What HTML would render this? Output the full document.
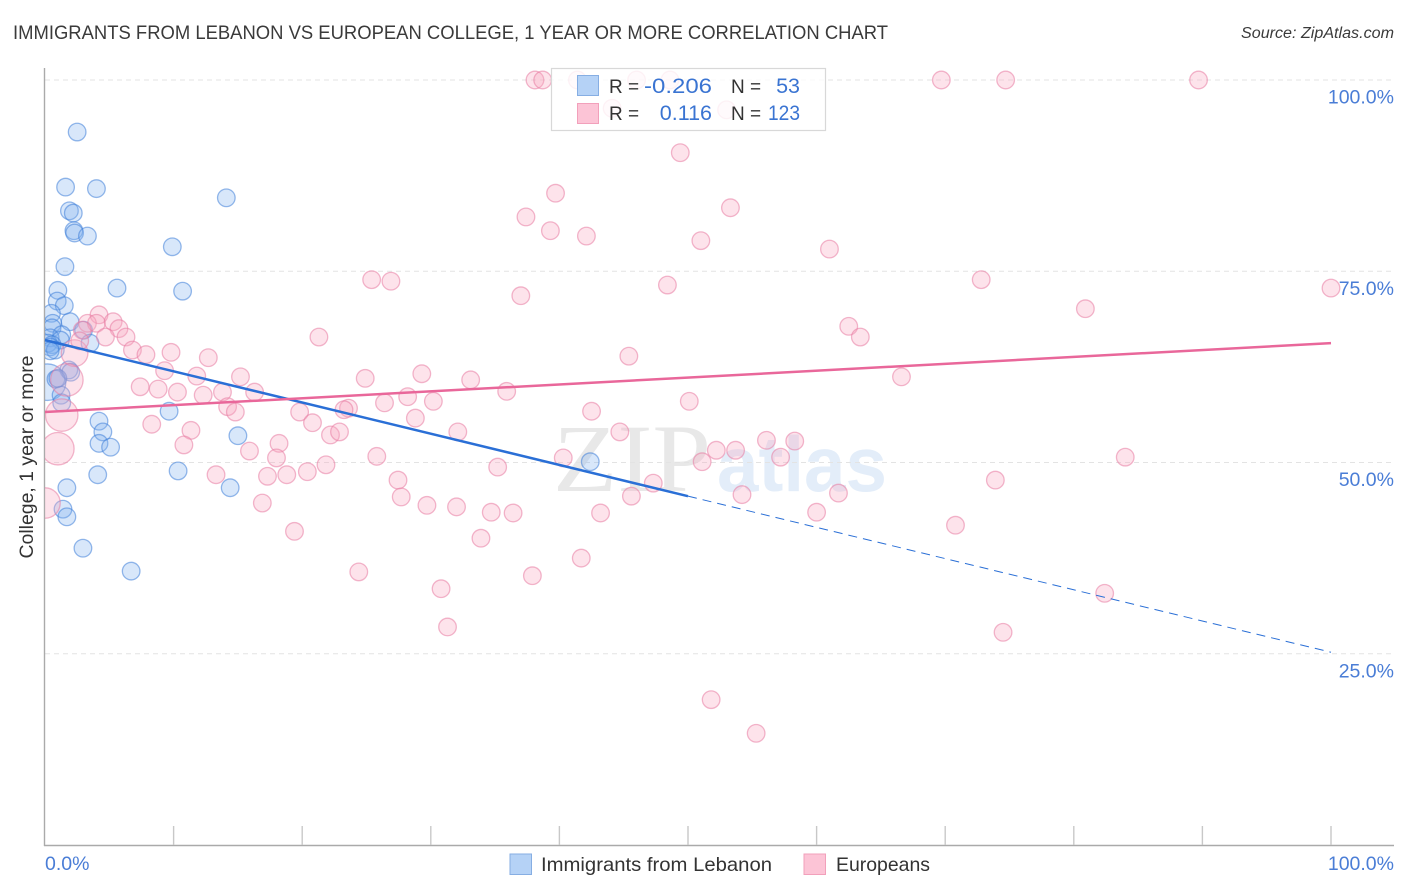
<!DOCTYPE html>
<html>
<head>
<meta charset="utf-8">
<style>
html,body{margin:0;padding:0;background:#fff;}
body{width:1406px;height:892px;overflow:hidden;font-family:"Liberation Sans",sans-serif;}
svg{display:block;}
text{font-family:"Liberation Sans",sans-serif;}
</style>
</head>
<body>
<svg id="chart" xmlns="http://www.w3.org/2000/svg" width="1406" height="892" viewBox="0 0 1406 892">
  <defs>
    <clipPath id="plot-clip"><rect x="45" y="60" width="1349" height="785"/></clipPath>
  </defs>
  <text x="13" y="39" font-size="19.6" fill="#3a3a3a" textLength="875" lengthAdjust="spacingAndGlyphs">IMMIGRANTS FROM LEBANON VS EUROPEAN COLLEGE, 1 YEAR OR MORE CORRELATION CHART</text>
  <text x="1241" y="38" font-size="15.5" font-style="italic" fill="#3a3a3a" textLength="153" lengthAdjust="spacingAndGlyphs">Source: ZipAtlas.com</text>
  <g>
    <text x="553" y="491" font-size="96" fill="#e8e8e8" style="font-family:'Liberation Serif',serif" textLength="158" lengthAdjust="spacingAndGlyphs">ZIP</text>
    <text x="717" y="491" font-size="78" font-weight="bold" fill="#e3edf9" textLength="170" lengthAdjust="spacingAndGlyphs">atlas</text>
  </g>
  <g id="grid"></g>
  <g id="axes"></g>
  <g id="marks-blue" clip-path="url(#plot-clip)"></g>
  <g id="marks-pink" clip-path="url(#plot-clip)"></g>
  <g id="trends"></g>
  <g>
    <rect x="551.5" y="68.5" width="274" height="62" fill="#fff" fill-opacity="0.82" stroke="#d8d8d8" stroke-width="1.2"/>
    <rect x="577.5" y="75.5" width="21" height="20" fill="#b5d2f6" stroke="#86aee3" stroke-width="1"/>
    <rect x="577.5" y="103.5" width="21" height="20" fill="#fcc4d6" stroke="#f2a0bb" stroke-width="1"/>
    <text x="609" y="93" font-size="19" fill="#333">R =</text>
    <text x="712" y="93" font-size="21.5" fill="#3a74d2" text-anchor="end" textLength="68" lengthAdjust="spacingAndGlyphs">-0.206</text>
    <text x="731" y="93" font-size="19" fill="#333">N =</text>
    <text x="800" y="93" font-size="21.5" fill="#3a74d2" text-anchor="end">53</text>
    <text x="609" y="120" font-size="19" fill="#333">R =</text>
    <text x="712" y="120" font-size="21.5" fill="#3a74d2" text-anchor="end">0.116</text>
    <text x="731" y="120" font-size="19" fill="#333">N =</text>
    <text x="800" y="120" font-size="21.5" fill="#3a74d2" text-anchor="end" textLength="32" lengthAdjust="spacingAndGlyphs">123</text>
  </g>
  <g>
    <rect x="510" y="854" width="21.5" height="20.5" fill="#b5d2f6" stroke="#86aee3" stroke-width="1"/>
    <text x="541" y="871" font-size="19.5" fill="#333" textLength="231" lengthAdjust="spacingAndGlyphs">Immigrants from Lebanon</text>
    <rect x="804" y="854" width="21.5" height="20.5" fill="#fcc4d6" stroke="#f2a0bb" stroke-width="1"/>
    <text x="836" y="871" font-size="19.5" fill="#333" textLength="94" lengthAdjust="spacingAndGlyphs">Europeans</text>
  </g>
  <text transform="translate(33,457) rotate(-90)" font-size="19" fill="#333" text-anchor="middle" textLength="203" lengthAdjust="spacingAndGlyphs">College, 1 year or more</text>
</svg>
<script>
const yTickValues = [100, 75, 50, 25];
const yTickLabels = ['100.0%', '75.0%', '50.0%', '25.0%'];
const xTickValues = [0, 10, 20, 30, 40, 50, 60, 70, 80, 90, 100];
const xEndValues = [0, 100];
const xEndLabels = ['0.0%', '100.0%'];

const blueX = [0.2,2.5,1.6,4.0,14.1,1.9,2.2,2.25,2.3,3.3,9.9,1.55,5.6,10.7,1.0,0.95,1.5,0.5,1.95,0.6,0.55,3.0,1.3,0.4,1.2,3.5,0.25,0.55,0.4,0.8,0.4,1.85,2.0,0.85,1.0,1.25,1.3,9.65,4.2,4.5,4.2,5.1,15.0,42.4,4.1,10.35,14.4,1.7,1.4,1.7,2.95,6.7];
const blueY = [60.5,93.2,86.0,85.8,84.6,82.9,82.6,80.3,80.0,79.6,78.2,75.6,72.8,72.4,72.5,71.1,70.5,69.5,68.4,68.2,67.6,67.3,66.7,66.3,66.0,65.6,65.6,65.4,65.1,64.7,64.6,62.1,61.8,60.9,61.0,58.8,57.8,56.7,55.4,54.0,52.5,52.0,53.5,50.1,48.4,48.9,46.7,46.7,43.9,42.9,38.8,35.8];
const blueWeight = [4.3];

const pinkX = [2.3,1.7,1.3,1.0,0,38.1,38.7,41.4,46.0,48.6,44.1,53.0,69.7,74.7,89.7,49.4,39.7,37.4,53.3,39.3,42.1,51.0,61.0,25.4,26.9,72.8,48.4,37.0,100,80.9,62.5,63.4,21.3,45.4,66.6,4.2,3.3,4.0,5.3,5.75,4.7,6.3,2.9,2.7,6.8,7.85,9.8,12.7,9.3,11.8,15.2,24.9,29.3,33.1,7.4,8.8,10.3,12.3,13.8,16.3,35.9,28.2,30.2,26.4,50.1,14.2,14.8,19.8,23.6,23.25,42.5,28.8,8.3,20.8,11.35,22.2,22.9,32.1,44.7,10.8,18.2,15.9,18.0,25.8,40.3,52.2,53.7,56.1,58.3,57.2,51.1,84.0,21.85,20.4,35.2,13.3,17.3,18.8,27.45,47.3,73.9,27.7,45.6,54.2,61.7,16.9,29.7,32.0,34.7,36.4,43.2,60.0,70.8,19.4,33.9,41.7,24.4,37.9,30.8,82.4,31.3,74.5,51.8,55.3];
const pinkY = [64.3,60.8,56.2,51.8,44.7,100,100,100,100,100,96.3,96.1,100,100,100,90.5,85.2,82.1,83.3,80.3,79.6,79.0,77.9,73.9,73.7,73.9,73.2,71.8,72.8,70.1,67.8,66.4,66.4,63.9,61.2,69.3,68.2,68.2,68.4,67.5,66.4,66.4,67.3,65.9,64.7,64.1,64.4,63.7,62.0,61.3,61.2,61.0,61.6,60.8,59.9,59.6,59.2,58.8,59.2,59.2,59.3,58.6,58.0,57.8,58.0,57.3,56.6,56.6,57.1,56.9,56.7,55.8,55.0,55.2,54.2,53.6,54.0,54.0,54.0,52.3,52.5,51.5,50.6,50.8,50.6,51.6,51.6,52.9,52.8,50.7,50.1,50.7,49.7,48.8,49.4,48.4,48.2,48.4,47.7,47.3,47.7,45.5,45.6,45.8,46.0,44.7,44.4,44.2,43.5,43.4,43.4,43.5,41.8,41.0,40.1,37.5,35.7,35.2,33.5,32.9,28.5,27.8,19.0,14.6];
const pinkWeight = [2.3,3.4,3.4,3.4,3.0];

const blueTrendX = [0, 50, 100];
const blueTrendY = [66.0, 45.6, 25.2];
const pinkTrendX = [0, 100];
const pinkTrendY = [56.6, 65.6];

const NS = 'http://www.w3.org/2000/svg';
function xScale(v) { return 45 + v * 12.86; }
function yScale(v) { return 845 - v * 7.65; }
function rScale(w) { return 8.8 * Math.sqrt(w); }
function make(tag, parent, attrs) {
  const el = document.createElementNS(NS, tag);
  for (const k in attrs) el.setAttribute(k, attrs[k]);
  parent.appendChild(el);
  return el;
}

const grid = document.getElementById('grid');
const axes = document.getElementById('axes');

yTickValues.forEach(function (v, i) {
  const line = make('line', grid, {x1: 45, x2: 1394, y1: yScale(v), y2: yScale(v), stroke: '#e3e3e3', 'stroke-width': 1, 'stroke-dasharray': '5 4'});
  
  
  const label = make('text', axes, {x: 1394, y: yScale(v) + 23.5, 'font-size': 19.5, fill: '#4a7dd6', 'text-anchor': 'end'});
  label.textContent = yTickLabels[i];
  
  
});

const yAxis = make('line', axes, {x1: 44.5, x2: 44.5, y1: 68, y2: 846, stroke: '#aaa', 'stroke-width': 1.4});


const xAxis = make('line', axes, {x1: 44, x2: 1394, y1: 845.5, y2: 845.5, stroke: '#aaa', 'stroke-width': 1.4});



xTickValues.forEach(function (v) {
  if (v === 0) return;
  const tick = make('line', axes, {x1: xScale(v), x2: xScale(v), y1: 826, y2: 845, stroke: '#c8c8c8', 'stroke-width': 1.4});
  
  
});

xEndValues.forEach(function (v, i) {
  const label = make('text', axes, {x: i === 0 ? xScale(v) : 1394, y: 870, 'font-size': 19.5, fill: '#4a7dd6', 'text-anchor': i === 0 ? 'start' : 'end'});
  label.textContent = xEndLabels[i];
  
  
});

function drawSeries(groupId, xs, ys, weights, fill, stroke, fillOpacity) {
  const g = document.getElementById(groupId);
  xs.forEach(function (xv, i) {
    const w = weights[i] === undefined ? 1 : weights[i];
    const c = make('circle', g, {cx: xScale(xv), cy: yScale(ys[i]), r: rScale(w), fill: fill, 'fill-opacity': fillOpacity, stroke: stroke, 'stroke-opacity': 0.55, 'stroke-width': 1.3});
    
    
  });
}
drawSeries('marks-blue', blueX, blueY, blueWeight, '#7fb0ee', '#3f7fd8', 0.3);
drawSeries('marks-pink', pinkX, pinkY, pinkWeight, '#f8a8c2', '#e87ca2', 0.32);

const trends = document.getElementById('trends');
const blueSolid = make('line', trends, {x1: xScale(blueTrendX[0]), y1: yScale(blueTrendY[0]), x2: xScale(blueTrendX[1]), y2: yScale(blueTrendY[1]), stroke: '#2a6fd6', 'stroke-width': 2.5});


const blueDash = make('line', trends, {x1: xScale(blueTrendX[1]), y1: yScale(blueTrendY[1]), x2: xScale(blueTrendX[2]), y2: yScale(blueTrendY[2]), stroke: '#2a6fd6', 'stroke-width': 1, 'stroke-dasharray': '9 6'});


const pinkLine = make('line', trends, {x1: xScale(pinkTrendX[0]), y1: yScale(pinkTrendY[0]), x2: xScale(pinkTrendX[1]), y2: yScale(pinkTrendY[1]), stroke: '#e9679a', 'stroke-width': 2.5});


</script>
</body>
</html>
